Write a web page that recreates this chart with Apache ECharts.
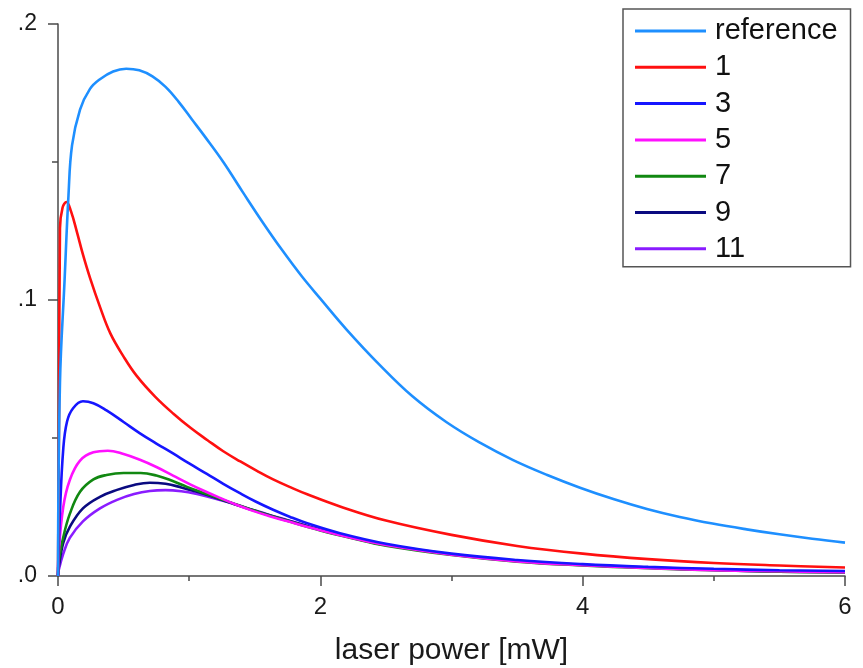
<!DOCTYPE html>
<html>
<head>
<meta charset="utf-8">
<title>laser power</title>
<script src="https://cdn.jsdelivr.net/npm/echarts@6/dist/echarts.min.js"></script>
<style>
  html, body { margin: 0; padding: 0; background: #ffffff; }
  #chart { width: 863px; height: 668px; }
</style>
</head>
<body>
<div id="chart"></div>
<script>
// Series names shown in the legend
const seriesNames = ['reference', '1', '3', '5', '7', '9', '11'];
const seriesColors = ['#1e8fff', '#ff1010', '#1616ff', '#ff10ff', '#118811', '#0a0a80', '#8a1cff'];

// Curves as [laser power (mW), signal] pairs
const referenceCurve = [
  [0, 0], [0.015, 0.07], [0.05, 0.107], [0.08, 0.138], [0.107, 0.156], [0.168, 0.169],
  [0.244, 0.1765], [0.32, 0.1800], [0.42, 0.1828], [0.52, 0.1838], [0.62, 0.1832],
  [0.72, 0.1810], [0.82, 0.1772], [0.92, 0.1718], [1.02, 0.1655], [1.12, 0.1592],
  [1.26, 0.1500], [1.41, 0.1390], [1.56, 0.1282], [1.71, 0.1180], [1.86, 0.1085],
  [2.0, 0.1005], [2.2, 0.0893], [2.45, 0.0766], [2.7, 0.0652], [2.96, 0.0558],
  [3.22, 0.0482], [3.47, 0.0420], [3.73, 0.0366], [3.98, 0.0320], [4.24, 0.0278],
  [4.49, 0.0243], [4.74, 0.0214], [4.99, 0.0190], [5.25, 0.0169], [5.5, 0.0151],
  [5.75, 0.0135], [6.0, 0.0121]
];

const curve1 = [
  [0, 0], [0.008, 0.06], [0.015, 0.126], [0.035, 0.1335], [0.065, 0.1355], [0.1, 0.1320],
  [0.145, 0.1245], [0.19, 0.1165], [0.244, 0.1080], [0.32, 0.0975], [0.40, 0.0878],
  [0.50, 0.0795], [0.60, 0.0725], [0.74, 0.0650], [0.88, 0.0588], [1.01, 0.0537],
  [1.14, 0.0492], [1.26, 0.0452], [1.39, 0.0415], [1.52, 0.0380], [1.64, 0.0350],
  [1.77, 0.0322], [1.90, 0.0296], [2.15, 0.0252], [2.5, 0.0201], [3.0, 0.0149],
  [3.5, 0.0109], [4.0, 0.0081], [4.5, 0.0061], [5.0, 0.0047], [5.5, 0.0038], [6.0, 0.0031]
];

const curve3 = [
  [0, 0], [0.015, 0.023], [0.04, 0.046], [0.069, 0.0560], [0.115, 0.0608], [0.19, 0.0633],
  [0.27, 0.0626], [0.37, 0.0600], [0.50, 0.0558], [0.625, 0.0517], [0.75, 0.0480],
  [0.877, 0.0444], [1.0, 0.0408], [1.135, 0.0370], [1.26, 0.0334], [1.387, 0.0300],
  [1.51, 0.0269], [1.64, 0.0240], [1.77, 0.0214], [1.90, 0.0191], [2.15, 0.0155],
  [2.5, 0.0117], [3.0, 0.0081], [3.5, 0.0058], [4.0, 0.0043], [4.5, 0.0033],
  [5.0, 0.0026], [5.5, 0.0021], [6.0, 0.0018]
];

const curve5 = [
  [0, 0], [0.005, 0.008], [0.04, 0.025], [0.09, 0.0348], [0.168, 0.0418], [0.27, 0.0448],
  [0.38, 0.0454], [0.50, 0.0442], [0.62, 0.0422], [0.75, 0.0395], [0.877, 0.0364],
  [1.0, 0.0334], [1.12, 0.0307], [1.235, 0.0283], [1.36, 0.0258], [1.486, 0.0236],
  [1.62, 0.0216], [1.745, 0.0199], [2.0, 0.0166], [2.25, 0.0137], [2.5, 0.0112],
  [3.0, 0.0077], [3.5, 0.0053], [4.0, 0.0039], [4.5, 0.0029], [5.0, 0.0021],
  [5.5, 0.0017], [6.0, 0.0014]
];

const curve7 = [
  [0, 0], [0.005, 0.005], [0.04, 0.014], [0.09, 0.0225], [0.168, 0.0305], [0.27, 0.0350],
  [0.37, 0.0366], [0.50, 0.0373], [0.63, 0.0373], [0.75, 0.0364], [0.87, 0.0345],
  [0.983, 0.0323], [1.11, 0.0301], [1.235, 0.0280], [1.36, 0.0259], [1.486, 0.0239],
  [1.62, 0.0218], [1.745, 0.0200], [2.0, 0.0165], [2.25, 0.0136], [2.5, 0.0110],
  [3.0, 0.0076], [3.5, 0.0052], [4.0, 0.0038], [4.5, 0.0028], [5.0, 0.0021],
  [5.5, 0.0016], [6.0, 0.0014]
];

const curve9 = [
  [0, 0], [0.005, 0.003], [0.04, 0.012], [0.09, 0.0178], [0.19, 0.0245], [0.32, 0.0287],
  [0.45, 0.0312], [0.58, 0.0330], [0.70, 0.0338], [0.82, 0.0334], [0.94, 0.0321],
  [1.06, 0.0305], [1.18, 0.0287], [1.31, 0.0266], [1.45, 0.0244], [1.6, 0.0222],
  [1.745, 0.0202], [2.0, 0.0167], [2.25, 0.0138], [2.5, 0.0112], [3.0, 0.0078],
  [3.5, 0.0054], [4.0, 0.0040], [4.5, 0.0030], [5.0, 0.0022], [5.5, 0.0016], [6.0, 0.0013]
];

const curve11 = [
  [0, 0], [0.005, 0.002], [0.04, 0.008], [0.09, 0.0138], [0.19, 0.0198], [0.32, 0.0245],
  [0.45, 0.0276], [0.58, 0.0297], [0.70, 0.0308], [0.82, 0.0311], [0.94, 0.0307],
  [1.06, 0.0297], [1.18, 0.0283], [1.31, 0.0265], [1.45, 0.0245], [1.6, 0.0223],
  [1.745, 0.0203], [2.0, 0.0168], [2.25, 0.0139], [2.5, 0.0113], [3.0, 0.0079],
  [3.5, 0.0055], [4.0, 0.0041], [4.5, 0.0031], [5.0, 0.0023], [5.5, 0.0018], [6.0, 0.0016]
];

const curves = [referenceCurve, curve1, curve3, curve5, curve7, curve9, curve11];

// Axis settings
const xTickValues = [0, 2, 4, 6];
const yTickValues = [0, 0.1, 0.2];
const xAxisTitle = 'laser power [mW]';

const fontFamily = '"Liberation Sans", Arial, Helvetica, sans-serif';
const axisColor = '#4a4a4a';

const chart = echarts.init(document.getElementById('chart'), null, { renderer: 'canvas' });

chart.setOption({
  animation: false,
  backgroundColor: '#ffffff',
  grid: { left: 58, right: 18, top: 24, bottom: 92, containLabel: false, outerBoundsMode: 'none' },
  xAxis: {
    type: 'value',
    min: xTickValues[0],
    max: xTickValues[xTickValues.length - 1],
    interval: xTickValues[1] - xTickValues[0],
    name: xAxisTitle,
    nameLocation: 'middle',
    nameGap: 60,
    nameTextStyle: { fontFamily: fontFamily, fontSize: 30, color: '#1a1a1a' },
    axisLine: { show: true, onZero: false, lineStyle: { color: axisColor, width: 1.5 } },
    axisTick: { show: true, inside: false, length: 10, lineStyle: { color: axisColor, width: 1.5 } },
    minorTick: { show: true, splitNumber: 2, length: 5, lineStyle: { color: axisColor, width: 1.5 } },
    axisLabel: { margin: 19, fontFamily: fontFamily, fontSize: 24, color: '#1a1a1a' },
    splitLine: { show: false }
  },
  yAxis: {
    type: 'value',
    min: yTickValues[0],
    max: yTickValues[yTickValues.length - 1],
    interval: yTickValues[1] - yTickValues[0],
    axisLine: { show: true, onZero: false, lineStyle: { color: axisColor, width: 1.5 } },
    axisTick: { show: true, inside: false, length: 10, lineStyle: { color: axisColor, width: 1.5 } },
    minorTick: { show: true, splitNumber: 2, length: 6, lineStyle: { color: axisColor, width: 1.5 } },
    axisLabel: {
      margin: 21,
      fontFamily: fontFamily,
      fontSize: 23,
      color: '#1a1a1a',
      formatter: function (v) { return v.toFixed(1).replace(/^0/, ''); }
    },
    splitLine: { show: false }
  },
  legend: {
    orient: 'vertical',
    left: 623,
    top: 9,
    padding: [7, 13, 3, 12],
    itemGap: 6.3,
    itemWidth: 71,
    itemHeight: 3,
    icon: 'rect',
    backgroundColor: '#ffffff',
    borderColor: '#555555',
    borderWidth: 1.5,
    borderRadius: 0,
    data: seriesNames,
    textStyle: {
      fontFamily: fontFamily,
      fontSize: 29,
      lineHeight: 30,
      color: '#111111',
      padding: [0, 0, 0, 4]
    }
  },
  series: seriesNames.map(function (name, i) {
    return {
      name: name,
      type: 'line',
      data: curves[i],
      showSymbol: false,
      symbol: 'none',
      smooth: 0.4,
      color: seriesColors[i],
      lineStyle: { width: 2.6, color: seriesColors[i] },
      z: 10 - i
    };
  })
});
</script>
</body>
</html>
